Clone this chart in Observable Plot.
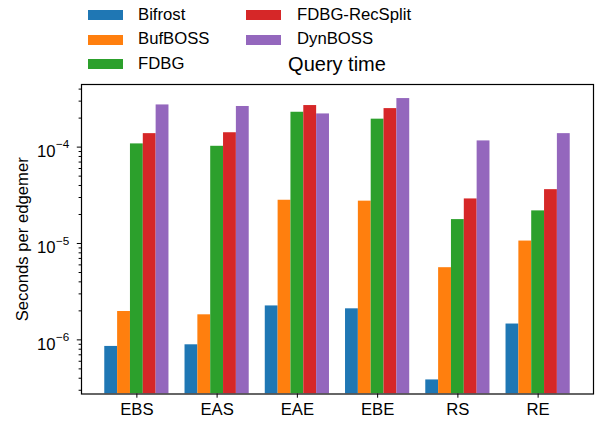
<!DOCTYPE html>
<html>
<head>
<meta charset="utf-8">
<script src="https://cdn.jsdelivr.net/npm/d3@7"></script>
<script src="https://cdn.jsdelivr.net/npm/@observablehq/plot@0.6"></script>
<style>
  html, body { margin: 0; padding: 0; background: #fff; }
  body { width: 597px; height: 421px; overflow: hidden; font-family: "Liberation Sans", Arial, sans-serif; }
  #header { position: relative; width: 597px; height: 83px; }
  .sw { position: absolute; width: 35px; height: 10px; }
  .lt { position: absolute; font-size: 16.7px; line-height: 1; color: #000; }
  #title { position: absolute; font-size: 20px; line-height: 1; left: 0; width: 674px; text-align: center; top: 54px; }
</style>
</head>
<body>
<div id="header"></div>
<div id="chart"></div>
<script>
const categories = ["EBS", "EAS", "EAE", "EBE", "RS", "RE"];
const series = ["Bifrost", "BufBOSS", "FDBG", "FDBG-RecSplit", "DynBOSS"];
const colors = ["#1f77b4", "#ff7f0e", "#2ca02c", "#d62728", "#9467bd"];
const bifrost      = [8.55e-7, 8.89e-7, 2.25e-6, 2.10e-6, 3.84e-7, 1.46e-6];
const bufboss      = [1.97e-6, 1.82e-6, 2.81e-5, 2.75e-5, 5.61e-6, 1.06e-5];
const fdbg         = [1.08e-4, 1.02e-4, 2.30e-4, 1.95e-4, 1.77e-5, 2.18e-5];
const fdbgRecSplit = [1.38e-4, 1.41e-4, 2.70e-4, 2.51e-4, 2.90e-5, 3.62e-5];
const dynboss      = [2.74e-4, 2.64e-4, 2.21e-4, 3.19e-4, 1.16e-4, 1.38e-4];
const values = [bifrost, bufboss, fdbg, fdbgRecSplit, dynboss];
const decades = [1e-6, 1e-5, 1e-4];
const title = "Query time";
const yLabel = "Seconds per edgemer";

// legend + title (HTML header)
const header = document.getElementById("header");
const legendPos = [[88, 138, 10], [88, 138, 34.6], [88, 138, 59.2], [246, 297, 10], [246, 297, 34.6]];
series.forEach((s, i) => {
  const [sx, tx, ty] = legendPos[i];
  const sw = document.createElement("div");
  sw.className = "sw"; sw.style.left = sx + "px"; sw.style.top = ty + "px"; sw.style.background = colors[i];
  header.appendChild(sw);
  const t = document.createElement("div");
  t.className = "lt"; t.textContent = s; t.style.left = tx + "px"; t.style.top = (ty - 3.5) + "px";
  header.appendChild(t);
});
const tt = document.createElement("div");
tt.id = "title"; tt.textContent = title;
header.appendChild(tt);

// data table
const rows = [];
categories.forEach((c, gi) => {
  series.forEach((s, si) => {
    const x1 = gi - 0.4 + si * 0.16;
    rows.push({category: c, series: s, value: values[si][gi], x1, x2: x1 + 0.16});
  });
});
const all = rows.map(d => d.value);
const lo = Math.log10(d3.min(all)), hi = Math.log10(d3.max(all));
const pad = 0.05 * (hi - lo);
const yDomain = [Math.pow(10, lo - pad), Math.pow(10, hi + pad)];
const xPad = 0.05 * (categories.length - 1 + 0.8);
const xDomain = [-0.4 - xPad, categories.length - 1 + 0.4 + xPad];

const minor = [];
for (let e = -7; e <= -3; e++) for (let m = 2; m <= 9; m++) {
  const v = m * Math.pow(10, e);
  if (v >= yDomain[0] && v <= yDomain[1]) minor.push(v);
}

const plot = Plot.plot({
  width: 597,
  height: 338,
  marginTop: 1,
  marginBottom: 27.5,
  marginLeft: 81,
  marginRight: 4,
  style: {fontFamily: '"Liberation Sans", Arial, sans-serif', background: "#fff", color: "#000"},
  x: {type: "linear", domain: xDomain, axis: null},
  y: {type: "log", domain: yDomain, axis: null},
  color: {domain: series, range: colors},
  marks: [
    Plot.rectY(rows, {x1: "x1", x2: "x2", y1: yDomain[0], y2: "value", fill: "series", clip: true}),
    Plot.axisX(d3.range(categories.length), {tickSize: 4.2, tickPadding: 4.5, fontSize: 16.7, tickFormat: i => categories[i], label: null}),
    Plot.axisY(decades, {tickSize: 4.2, tickFormat: () => "", label: null}),
    Plot.axisY(minor, {tickSize: 2.4, tickFormat: () => "", label: null}),
    Plot.text(decades, {y: d => d, frameAnchor: "left", text: () => "10", textAnchor: "end", dx: -26, dy: 4.5, fontSize: 16.7}),
    Plot.text(decades, {y: d => d, frameAnchor: "left", text: d => "\u2212" + Math.round(-Math.log10(d)), textAnchor: "start", dx: -25.5, dy: -2.5, fontSize: 11.7}),
    Plot.text([yLabel], {frameAnchor: "left", text: d => d, textAnchor: "middle", dx: -59, rotate: -90, fontSize: 16.7}),
    Plot.frame({stroke: "#000", strokeWidth: 1.2})
  ]
});
document.getElementById("chart").appendChild(plot);
</script>
</body>
</html>
